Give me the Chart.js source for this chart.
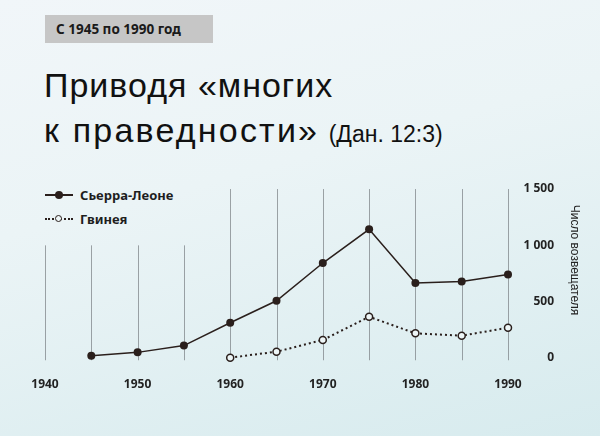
<!DOCTYPE html>
<html lang="ru">
<head>
<meta charset="utf-8">
<script src="https://cdn.jsdelivr.net/npm/chart.js@4/dist/chart.umd.min.js"></script>
<style>
  html, body { margin: 0; padding: 0; }
  body {
    width: 600px; height: 436px; position: relative; overflow: hidden;
    background: linear-gradient(165deg, #f1f6f9 0%, #ebf4f6 40%, #d7ebee 100%);
    font-family: "Liberation Sans", Arial, sans-serif;
  }
  #period {
    position: absolute; left: 45px; top: 15px; width: 168px; height: 28px;
    background: #c6c6c6; box-sizing: border-box; padding-left: 11px;
    font: bold 13.5px/28px "Noto Sans", sans-serif; color: #1a1a1a;
  }
  #title {
    position: absolute; left: 44px; top: 63px; margin: 0;
    font: normal 34px/45px "Liberation Sans", Arial, sans-serif; color: #111;
  }
  #title .l1 { letter-spacing: 1px; }
  #title .l2 { letter-spacing: 2.2px; }
  #title small { font-size: 23px; letter-spacing: 0; }
  .legend-row {
    position: absolute; left: 45px; height: 20px; display: flex; align-items: center;
    font: bold 13px "Noto Sans", sans-serif; color: #1e1e1e;
  }
  .sample { position: relative; width: 28px; height: 20px; margin-right: 7px; }
  .sample .ln { position: absolute; left: 0; right: 0; top: 9px; border-top: 2px solid #2a1f1c; }
  .sample .ln.dot { border-top: 2px dotted #2a1f1c; }
  .sample .pt { position: absolute; left: 10px; top: 6px; width: 8px; height: 8px; border-radius: 50%; background: #2a1f1c; }
  .sample .pt.open { left: 10px; top: 6px; width: 5px; height: 5px; background: #eef6f7; border: 1.6px solid #2a1f1c; }
  #chart { position: absolute; left: 0; top: 0; }
</style>
</head>
<body>
<div id="period">С 1945 по 1990 год</div>
<h1 id="title"><span class="l1">Приводя «многих</span><br><span class="l2">к праведности»</span> <small>(Дан. 12:3)</small></h1>
<div class="legend-row" style="top:185px"><span class="sample"><span class="ln"></span><span class="pt"></span></span>Сьерра-Леоне</div>
<div class="legend-row" style="top:209px"><span class="sample"><span class="ln dot"></span><span class="pt open"></span></span>Гвинея</div>
<canvas id="chart" width="600" height="436"></canvas>
<script>
// data
const years = [1945, 1950, 1955, 1960, 1965, 1970, 1975, 1980, 1985, 1990];
const sierraLeone = [20, 50, 110, 313, 508, 843, 1142, 665, 680, 742];
const guineaYears = [1960, 1965, 1970, 1975, 1980, 1985, 1990];
const guinea = [3, 56, 160, 366, 219, 198, 269];

// vertical guide lines: year and how high each one goes
const gridYears = [1940, 1945, 1950, 1955, 1960, 1965, 1970, 1975, 1980, 1985, 1990];
const gridTops = [1000, 1000, 1000, 1000, 1500, 1500, 1500, 1500, 1500, 1500, 1500];
const yTicks = [0, 500, 1000, 1500];

const INK = '#2a1f1c';

const guides = {
  id: 'guides',
  beforeDatasetsDraw(chart) {
    const { ctx, scales: { x, y } } = chart;
    ctx.save();
    ctx.strokeStyle = 'rgba(120,126,130,0.7)';
    ctx.lineWidth = 1;
    gridYears.forEach((yr, i) => {
      const px = Math.round(x.getPixelForValue(yr)) + 0.5;
      ctx.beginPath();
      ctx.moveTo(px, y.getPixelForValue(gridTops[i]));
      ctx.lineTo(px, y.getPixelForValue(-20));
      ctx.stroke();
    });
    ctx.restore();
  }
};

const fmt = v => v >= 1000 ? Math.floor(v / 1000) + ' ' + String(v % 1000).padStart(3, '0') : String(v);

new Chart(document.getElementById('chart'), {
  type: 'line',
  data: {
    datasets: [
      {
        label: 'Сьерра-Леоне',
        data: years.map((yr, i) => ({ x: yr, y: sierraLeone[i] })),
        borderColor: INK, borderWidth: 1.5,
        pointRadius: 4, pointBackgroundColor: INK, pointBorderColor: INK, pointBorderWidth: 0,
        clip: false
      },
      {
        label: 'Гвинея',
        data: guineaYears.map((yr, i) => ({ x: yr, y: guinea[i] })),
        borderColor: INK, borderWidth: 2, borderDash: [2, 3],
        pointRadius: 3.5, pointBackgroundColor: '#eef6f7', pointBorderColor: INK, pointBorderWidth: 1.5,
        clip: false
      }
    ]
  },
  options: {
    responsive: false,
    animation: false,
    layout: { padding: { left: 45, top: 162, right: 46, bottom: 0 } },
    plugins: { legend: { display: false }, tooltip: { enabled: false } },
    scales: {
      x: {
        type: 'linear', min: 1940, max: 1990,
        grid: { display: false }, border: { display: false },
        ticks: {
          stepSize: 10, padding: 11, color: '#222',
          font: { family: 'Noto Sans', weight: 'bold', size: 12 },
          callback: v => String(v)
        },
        afterFit(scale) { scale.height = 78; }
      },
      y: {
        position: 'right', min: 0, max: 1740,
        grid: { display: false, drawTicks: false }, border: { display: false },
        afterBuildTicks(scale) { scale.ticks = yTicks.map(v => ({ value: v })); },
        ticks: {
          crossAlign: 'far', padding: 0, color: '#222',
          font: { family: 'Noto Sans', weight: 'bold', size: 12 },
          callback: v => fmt(v)
        },
        // title sits outside the axis box, past the right-aligned labels
        title: {
          display: true, text: 'Число возвещателя', color: '#222',
          font: { family: 'Liberation Sans', size: 12 }, padding: { top: -28, bottom: 0 }
        },
        afterFit(scale) { scale.width = 46; }
      }
    }
  },
  plugins: [guides]
});
</script>
</body>
</html>
